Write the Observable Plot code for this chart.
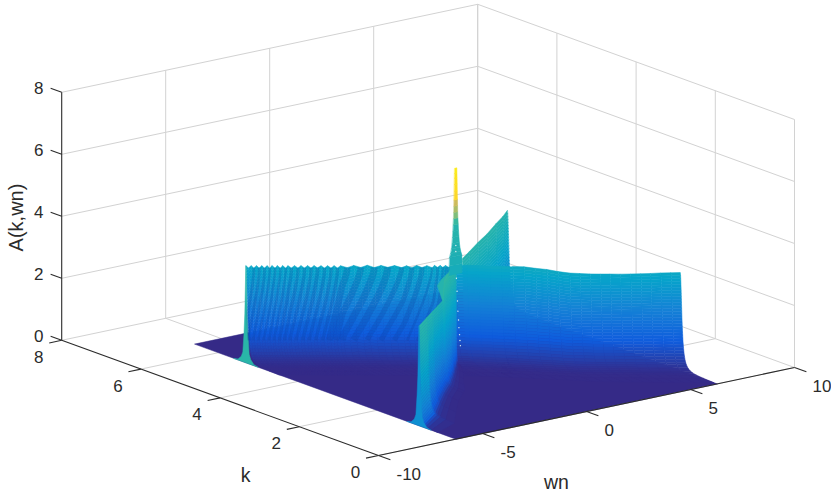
<!DOCTYPE html>
<html>
<head>
<meta charset="utf-8">
<style>html,body{margin:0;padding:0;background:#fff}svg{display:block}</style>
<script src="https://cdn.jsdelivr.net/npm/d3@7"></script>
<script src="https://cdn.jsdelivr.net/npm/@observablehq/plot@0.6"></script>
</head>
<body>
<script>
// axis ticks
const kTicks = [0, 2, 4, 6, 8];
const wnTicks = [-10, -5, 0, 5, 10];
const aTicks = [0, 2, 4, 6, 8];

// surface extent read from the floor corners
const kMax = 6.6, wnEdge = 6.28;

// ridge running from high k to low k (wn, k, peak height)
const r1Wn = [-6.28,-6.2,-6.12,-6.04,-5.96,-5.88,-5.8,-5.72,-5.64,-5.56,-5.48,-5.4,-5.32,-5.24,-5.16,-5.08,-5,-4.9,-4.8,-4.7,-4.6,-4.5,-4.4,-4.3,-4.2,-4.1,-4,-3.9,-3.8,-3.7,-3.6,-3.5,-3.4,-3.2,-3,-2.8,-2.6,-2.4,-2.2,-2,-1.8,-1.6,-1.45,-1.3,-1.15,-1,-0.85,-0.7,-0.62,-0.54,-0.46,-0.38,-0.3,-0.22,0,0.3,0.6,0.9,1.2,1.5,1.8,2.1,2.4,2.7,3,3.3,3.6,3.9,4.2,4.5,4.8,5.1,5.4,5.7,6,6.28];
const r1K = [5.3,5.28,5.25,5.23,5.2,5.18,5.15,5.13,5.1,5.08,5.06,5.03,5.01,4.98,4.96,4.93,4.91,4.88,4.85,4.82,4.79,4.76,4.73,4.7,4.67,4.64,4.6,4.57,4.54,4.51,4.48,4.45,4.42,4.36,4.3,4.23,4.17,4.1,4.03,3.97,3.9,3.83,3.78,3.73,3.68,3.63,3.58,3.53,3.51,3.48,3.45,3.43,3.4,3.37,3.3,3.17,3.04,2.91,2.78,2.65,2.52,2.39,2.26,2.13,2,1.9,1.8,1.7,1.61,1.51,1.41,1.31,1.22,1.12,1.02,0.93];
const r1A = [3.13,3.06,3.13,3.06,3.13,3.06,3.13,3.06,3.13,3.06,3.13,3.06,3.13,3.06,3.13,3.06,3.13,3.06,3.13,3.06,3.13,3.06,3.13,3.06,3.13,3.06,3.13,3.06,3.13,3.06,3.13,3.06,3.13,3.07,3.14,3.08,3.15,3.08,3.15,3.09,3.15,3.09,3.15,3.09,3.16,3.1,3.16,3.1,3.17,3.11,3.17,3.11,3.17,3.12,3.18,3.2,3.21,3.21,3.22,3.23,3.24,3.21,3.19,3.14,3.11,3.1,3.09,3.09,3.09,3.09,3.1,3.11,3.12,3.14,3.15,3.16];

// second ridge, part behind the first one (far end first)
const r2FarWn = [6.28,5.5,4.5,3.5,2.5,1.5,0.5];
const r2FarK = [5.3,5,4.65,4.35,4.05,3.75,3.4];
const r2FarA = [3.13,3.19,3.26,3.21,3.22,3.2,3.28];

// second ridge, part in front of the first one (crossing first)
const r2NearWn = [0,-0.5,-1,-1.5,-2,-2.2,-3,-4,-5,-6.28];
const r2NearK = [3.3,3.11,2.92,2.73,2.54,2.47,2.17,1.79,1.4,0.93];
const r2NearA = [3.34,3.3,3.33,3.36,3.34,2.75,2.84,2.96,3.1,3.22];
const r2NearPower = [.6,.6,.55,.55,.55,.55,.55,.5,.35,.3];
const r2NearSpread = [.15,.3,.4,.5,.6,.6,.6,.7,.8,.55];

// bulge on the near part of the second ridge
const bulgeWn = [-1.88,-2.12,-1.93,-1.64,-1.5];
const bulgeA = [2.62,3.13,3.3,3.45,2.88];

// cross-section of a ridge: share of the peak height and k distance from the peak
const profFrac = [1,.97,.94,.91,.88,.85,.82,.79,.76,.73,.7,.67,.64,.61,.58,.55,.52,.49,.46,.43,.4,.37,.34,.31,.28,.25,.22,.19,.16,.13,.1,.08,.06,.045,.03,.02,.012,.006,0];
const profOff = [0,.0081,.0116,.0145,.017,.0193,.0216,.0237,.0259,.028,.0301,.0323,.0345,.0368,.0391,.0416,.0442,.0469,.0498,.053,.0563,.06,.0641,.0686,.0738,.0797,.0866,.095,.1054,.119,.138,.156,.182,.212,.262,.322,.417,.593,.85];

// spike at the crossing: height, half width in wn, colour value
const spikeA = [2.9,3.2,3.48,3.6,3.74,3.9,4.1,4.29,4.5,4.7,4.9,5.1,5.3,5.58,5.8,6,6.15,6.32];
const spikeHalf = [.3,.3,.29,.24,.2,.17,.15,.13,.115,.1,.09,.085,.08,.07,.065,.06,.055,.05];
const spikeTone = [3,3.1,3.15,3.2,3.2,3.25,3.3,3.3,3.6,4.3,4.8,5.2,6.4,6.5,6.55,6.6,6.7,6.8];

// outline of the surface edge at wn = -6.28 around each ridge foot
const footOff = [0,.01,.02,.03,.05,.08,.12,.2,.3];
const footFrac = [1,.9,.7,.5,.3,.1,.05,.01,0];

// pale gaps along the crossing
const gapWn = [0,0,.03,.06,.08,.1,.13,.15,.18,.2,.22];
const gapA = [3.82,3.63,2.76,2.34,2.02,1.69,1.4,1.15,.92,.73,.56];

// colour map
const parula = ["#352a87","#0f5cdd","#1481d6","#06a4ca","#2eb7a4","#87bf77","#d1bb59","#fec832","#f9fb0e"];
const toneStops = [0,.875,1.75,2.625,3.5,4.375,5.25,6.125,7];

// view of the axes box
const X = (k, w) => 378 - 39.6 * k + 20.8 * (w + 10);
const Y = (k, w, a = 0) => 455 - 14.4 * k - 4.4 * (w + 10) - 31 * a;

// faces
const rows = [];
let id = 0;
function face(pts, v) {
  id++;
  for (const [k, w, a] of pts) rows.push({id, x: X(k, w), y: Y(k, w, a), v});
}
function wall(W, K, A, tone, spread) {
  const s = (i) => spread ? spread[i] : 1;
  for (let i = 0; i < W.length - 1; i++) {
    for (let l = 0; l < profFrac.length - 1; l++) {
      const f0 = profFrac[l], f1 = profFrac[l + 1], o0 = profOff[l], o1 = profOff[l + 1];
      face([
        [K[i] - o0 * s(i), W[i], f0 * A[i]],
        [K[i + 1] - o0 * s(i + 1), W[i + 1], f0 * A[i + 1]],
        [K[i + 1] - o1 * s(i + 1), W[i + 1], f1 * A[i + 1]],
        [K[i] - o1 * s(i), W[i], f1 * A[i]]
      ], tone(i, l, f0));
    }
  }
}
function foot(k0, peak, v) {
  const pts = [];
  for (let i = footOff.length - 1; i >= 0; i--) pts.push([k0 + footOff[i], -wnEdge, footFrac[i] * peak]);
  for (let i = 1; i < footOff.length; i++) pts.push([k0 - footOff[i], -wnEdge, footFrac[i] * peak]);
  face(pts, v);
}

// floor
face([[0, -wnEdge, 0], [kMax, -wnEdge, 0], [kMax, wnEdge, 0], [0, wnEdge, 0]], 0);
// far part of second ridge
wall(r2FarWn, r2FarK, r2FarA, (i, l, f) => 3.25 * Math.sqrt(f * r2FarA[i] / 3.13));
// first ridge
wall(r1Wn, r1K, r1A, (i, l, f) => f * r1A[i] * 0.87);
foot(r1K[0], r1A[0], 3.4);
const backRows = rows.splice(0);
// near part of second ridge
face(bulgeWn.map((w, i) => [2.65, w, bulgeA[i]]), 3.3);
wall(r2NearWn, r2NearK, r2NearA, (i, l, f) => 3.4 * Math.pow(f * r2NearA[i] / 3.13, r2NearPower[i]) * Math.min(1, f / 0.05), r2NearSpread);
foot(r2NearK[r2NearK.length - 1], r2NearA[r2NearA.length - 1], 2.1);
// spike
for (let i = 0; i < spikeA.length - 1; i++) {
  face([
    [3.3, -spikeHalf[i], spikeA[i]],
    [3.3, spikeHalf[i], spikeA[i]],
    [3.3, spikeHalf[i + 1], spikeA[i + 1]],
    [3.3, -spikeHalf[i + 1], spikeA[i + 1]]
  ], spikeTone[i]);
}
const frontRows = rows.splice(0);

// slanted bands on the first ridge, one from each dip of its scalloped crest
const bandRows = [];
for (let i = 3; i < 54; i += 2) {
  const width = Math.abs(X(r1K[i + 1], r1Wn[i + 1]) - X(r1K[i], r1Wn[i]));
  for (let l = 0; l < 26; l++) {
    const f = profFrac[l];
    const j = Math.max(0, i - 8 * Math.pow(1 - f, 1.3));
    const j0 = Math.floor(j), t = j - j0;
    const w = r1Wn[j0] + t * (r1Wn[j0 + 1] - r1Wn[j0]);
    const k = r1K[j0] + t * (r1K[j0 + 1] - r1K[j0]) - profOff[l];
    bandRows.push({band: i, x: X(k, w), y: Y(k, w, f * r1A[i]), sw: width});
  }
}

// box
const gridLines = [];
const seg = (a, b) => gridLines.push({x1: X(a[0], a[1]), y1: Y(...a), x2: X(b[0], b[1]), y2: Y(...b)});
for (const a of aTicks.slice(1)) { seg([8, -10, a], [8, 10, a]); seg([8, 10, a], [0, 10, a]); }
for (const w of wnTicks.slice(1)) { seg([8, w, 0], [8, w, 8]); seg([0, w, 0], [8, w, 0]); }
for (const k of kTicks) { seg([k, 10, 0], [k, 10, 8]); seg([k, -10, 0], [k, 10, 0]); }

const axisLines = [];
const axisSeg = (a, b) => axisLines.push({x1: X(a[0], a[1]), y1: Y(...a), x2: X(b[0], b[1]), y2: Y(...b)});
axisSeg([8, -10, 0], [8, -10, 8]);
axisSeg([8, -10, 0], [0, -10, 0]);
axisSeg([0, -10, 0], [0, 10, 0]);
for (const a of aTicks) axisSeg([8, -10, a], [8.28, -10, a]);
for (const k of kTicks) axisSeg([k, -10, 0], [k, -10.6, 0]);
for (const w of wnTicks) axisSeg([0, w, 0], [-0.3, w, 0]);

const ink = "#2b2b2b";
const faceOptions = {x: "x", y: "y", z: "id", fill: "v", stroke: "v", strokeWidth: 0.5, curve: "linear-closed"};
const chart = Plot.plot({
  width: 831,
  height: 493,
  margin: 0,
  x: {domain: [0, 831], range: [0, 831], axis: null},
  y: {domain: [0, 493], range: [0, 493], axis: null},
  color: {type: "linear", domain: toneStops, range: parula, interpolate: "rgb", clamp: true},
  style: {fontFamily: "'Liberation Sans', Arial, sans-serif", background: "#fff"},
  marks: [
    Plot.link(gridLines, {x1: "x1", y1: "y1", x2: "x2", y2: "y2", stroke: "#d2d2d2", strokeWidth: 1}),
    Plot.line(backRows, faceOptions),
    Plot.line(bandRows, {x: "x", y: "y", z: "band", stroke: "#0a3a9c", strokeOpacity: 0.22, strokeWidth: "sw", strokeLinecap: "butt"}),
    Plot.line(frontRows, faceOptions),
    Plot.dot(gapWn, {x: (w) => X(3.3, w), y: (w, i) => Y(3.3, w, gapA[i]), r: 0.7, fill: "#dff3f2", stroke: "none"}),
    Plot.link(axisLines, {x1: "x1", y1: "y1", x2: "x2", y2: "y2", stroke: ink, strokeWidth: 1.1}),
    Plot.text(aTicks, {x: () => X(8, -10), y: (a) => Y(8, -10, a), text: (a) => String(a), dx: -23, dy: -4, fontSize: 17, fill: ink}),
    Plot.text(kTicks, {x: (k) => X(k, -10), y: (k) => Y(k, -10), text: (k) => String(k), dx: -23, dy: 17, fontSize: 17, fill: ink}),
    Plot.text(wnTicks, {x: (w) => X(0, w), y: (w) => Y(0, w), text: (w) => String(w), dx: 18, dy: 19, textAnchor: "start", fontSize: 17, fill: ink}),
    Plot.text(["k"], {x: () => 245, y: () => 475, fontSize: 19.5, fill: ink}),
    Plot.text(["wn"], {x: () => 556, y: () => 482, fontSize: 19.5, fill: ink}),
    Plot.text(["A(k,wn)"], {x: () => 16, y: () => 217, rotate: -90, fontSize: 20, fill: ink})
  ]
});
document.body.appendChild(chart);
</script>
</body>
</html>
